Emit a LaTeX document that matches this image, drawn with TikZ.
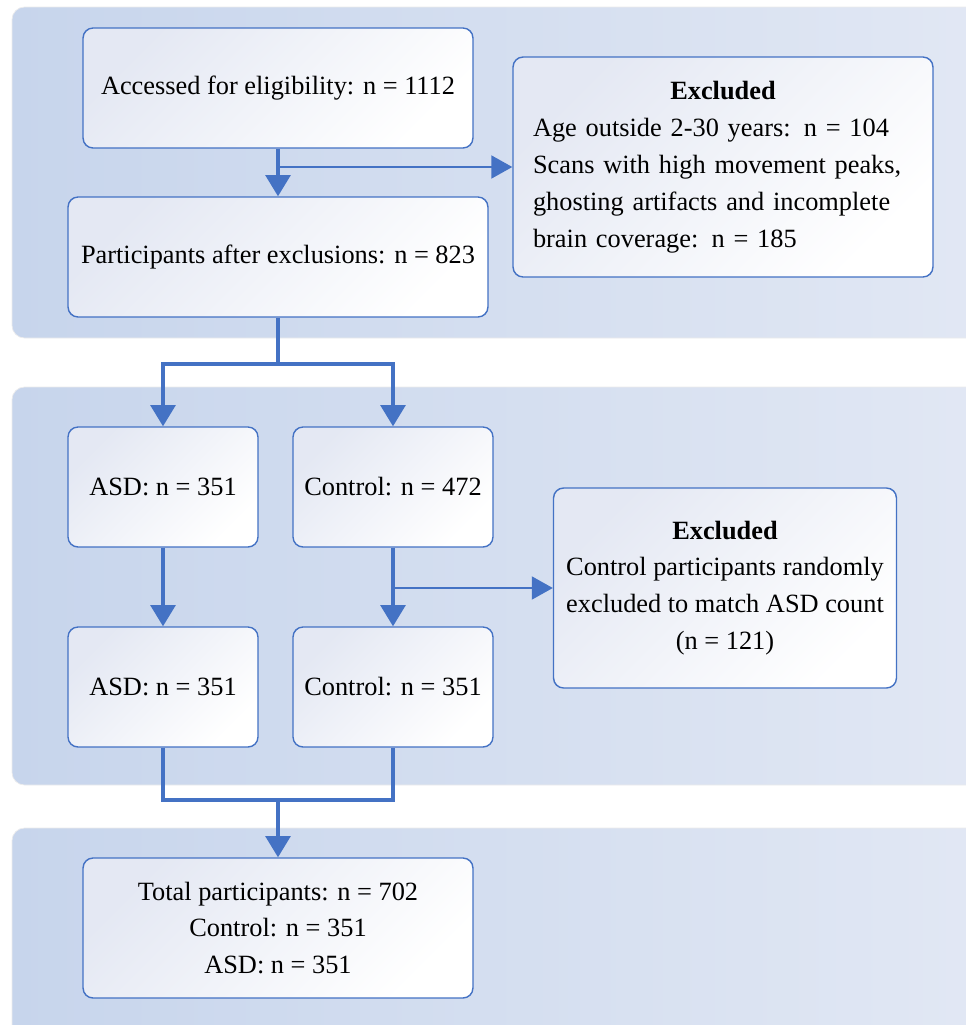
\documentclass[tikz,border=0pt]{standalone}
\usepackage{fontspec}
\setmainfont{Liberation Serif}
\usetikzlibrary{arrows.meta}

\definecolor{flowblue}{RGB}{68,114,196}
\definecolor{panelleft}{RGB}{199,213,236}
\definecolor{panelright}{RGB}{226,232,244}
\definecolor{boxtint}{RGB}{228,232,243}

\begin{document}
\begin{tikzpicture}[x=0.02cm, y=-0.02cm,
    flowbox/.style={draw=flowblue, line width=0.8pt, rounded corners=0.2cm,
        top color=boxtint, bottom color=white, shading angle=45,
        minimum height=2.4cm, inner sep=0pt, align=center,
        font=\fontsize{15}{21}\selectfont},
    flowline/.style={draw=flowblue, line width=2pt},
    flowarrow/.style={flowline, -{Triangle[width=14pt,length=12pt]}},
    sidearrow/.style={draw=flowblue, line width=1.5pt, -{Triangle[width=13pt,length=12pt]}}]

    % Page size (reference pixels)
    \def\pagew{966}
    \def\pageh{1025}
    \useasboundingbox (0,0) rectangle (\pagew,\pageh);
    \clip (0,0) rectangle (\pagew,\pageh);

    % Background panels
    \foreach \ytop/\ybot in {7/338, 387/785, 828/1045}
        \draw[gray!15, left color=panelleft, right color=panelright, rounded corners=0.25cm]
            (12,\ytop) rectangle (1000,\ybot);

    % Boxes
    \node[flowbox, minimum width=7.8cm] (access) at (278,88) {Accessed for eligibility: n = 1112};
    \node[flowbox, minimum width=8.4cm] (after) at (278,257) {Participants after exclusions: n = 823};
    \node[flowbox, minimum width=8.4cm, minimum height=4.4cm, text width=7.6cm, align=left]
        (exclA) at (723,167)
        {\hspace*{\fill}\textbf{Excluded}\hspace*{\fill}\mbox{}\\
         Age outside 2-30 years: n = 104\\
         Scans with high movement peaks,\\
         ghosting artifacts and incomplete\\
         brain coverage: n = 185};

    \node[flowbox, minimum width=3.8cm] (asdA) at (163,487) {ASD: n = 351};
    \node[flowbox, minimum width=4cm] (ctlA) at (393,487) {Control: n = 472};
    \node[flowbox, minimum width=3.8cm] (asdB) at (163,687) {ASD: n = 351};
    \node[flowbox, minimum width=4cm] (ctlB) at (393,687) {Control: n = 351};
    \node[flowbox, minimum width=6.86cm, minimum height=4cm] (exclB) at (725,588)
        {\textbf{Excluded}\\
         Control participants randomly\\
         excluded to match ASD count\\
         (n = 121)};

    \node[flowbox, minimum width=7.8cm, minimum height=2.8cm] (total) at (278,928)
        {Total participants: n = 702\\ Control: n = 351\\ ASD: n = 351};

    % Connectors
    \coordinate (split) at (278,364);
    \coordinate (join) at (278,800);

    \draw[flowarrow] (access.south) -- (after.north);
    \draw[sidearrow] (access.south |- exclA.west) -- (exclA.west);

    \draw[flowline] (after.south) -- (split);
    \draw[flowarrow] (split) -| (asdA.north);
    \draw[flowarrow] (split) -| (ctlA.north);

    \draw[flowarrow] (asdA.south) -- (asdB.north);
    \draw[flowarrow] (ctlA.south) -- (ctlB.north);
    \draw[sidearrow] (ctlA.south |- exclB.west) -- (exclB.west);

    \draw[flowline] (asdB.south) |- (join) -| (ctlB.south);
    \draw[flowarrow] (join) -- (total.north);

\end{tikzpicture}
\end{document}
